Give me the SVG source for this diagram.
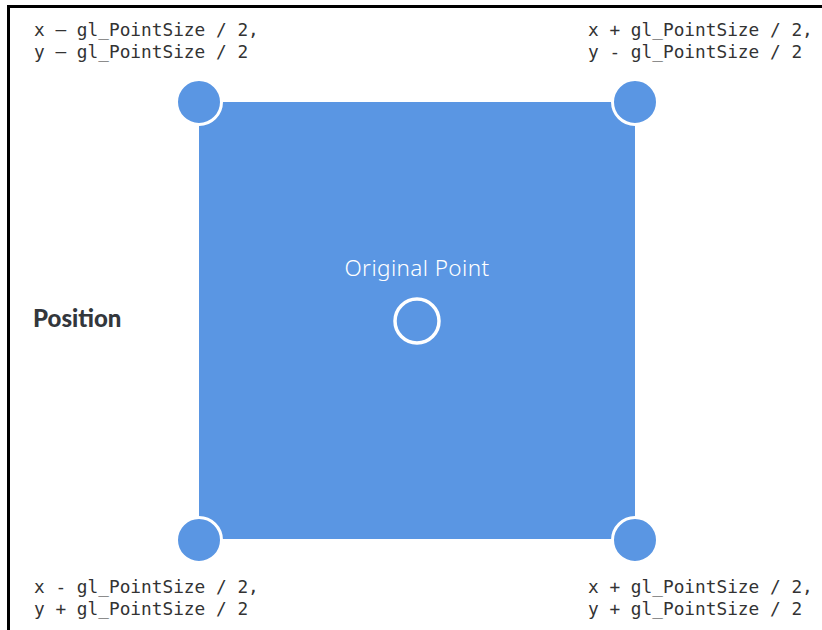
<svg xmlns="http://www.w3.org/2000/svg" width="822" height="630" viewBox="0 0 822 630">
<style>
.mono{font-family:"DejaVu Sans Mono","Liberation Mono",monospace;font-size:17.8px;fill:#333}
.corner{fill:#5A96E3;stroke:#fff;stroke-width:3}
</style>
<rect width="822" height="630" fill="#fff"/>
<path d="M8.5 630 V6.5 H822" fill="none" stroke="#000" stroke-width="3"/>
<g id="square"><rect x="199" y="102" width="436" height="437" fill="#5A96E3"/></g>
<g id="corner-tl"><circle class="corner" cx="199" cy="102" r="22.5"/></g>
<g id="corner-tr"><circle class="corner" cx="635" cy="102" r="22.5"/></g>
<g id="corner-bl"><circle class="corner" cx="199" cy="540" r="22.5"/></g>
<g id="corner-br"><circle class="corner" cx="635" cy="540" r="22.5"/></g>
<g id="original-point">
<circle cx="417" cy="321" r="22" fill="none" stroke="#fff" stroke-width="3.5"/>
<text x="417" y="276" text-anchor="middle" font-family="'Noto Sans','Open Sans',sans-serif" font-weight="300" font-size="22.5" letter-spacing="0.4" fill="#fff">Original Point</text>
</g>
<g id="position"><text x="33" y="327" font-family="Lato,'Open Sans',sans-serif" font-weight="900" font-size="24" fill="#33373c">Position</text></g>
<g id="label-tl"><text class="mono" x="34" y="36">x – gl_PointSize / 2,</text><text class="mono" x="34" y="58">y – gl_PointSize / 2</text></g>
<g id="label-tr"><text class="mono" x="588" y="36">x + gl_PointSize / 2,</text><text class="mono" x="588" y="58">y - gl_PointSize / 2</text></g>
<g id="label-bl"><text class="mono" x="34" y="593">x - gl_PointSize / 2,</text><text class="mono" x="34" y="615">y + gl_PointSize / 2</text></g>
<g id="label-br"><text class="mono" x="588" y="593">x + gl_PointSize / 2,</text><text class="mono" x="588" y="615">y + gl_PointSize / 2</text></g>
<g id="connectors"/>
</svg>
